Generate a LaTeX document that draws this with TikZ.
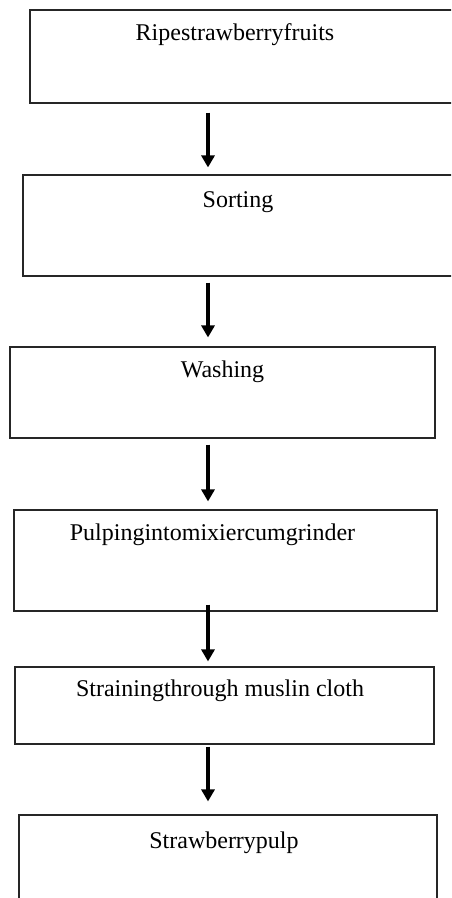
\documentclass[tikz,border=0pt]{standalone}
\usepackage{fontspec}
\setmainfont{Liberation Serif}
\usetikzlibrary{arrows.meta,calc}

\tikzset{
  stepbox/.style={draw=black!85,line width=.55pt,rectangle,inner sep=0pt},
  steptext/.style={anchor=base,inner sep=0pt,font=\fontsize{12}{14}\selectfont},
  flowarrow/.style={line width=1.8pt,-{Triangle[width=6.5pt,length=6pt]}}
}

\begin{document}
\begin{tikzpicture}[x=.5pt,y=-.5pt]
      \clip (0,0) rectangle (451,898);
      \fill[white] (0,0) rectangle (451,898);
      \coordinate (arrowx) at (208,0);
      %% boxes
      \node[stepbox,minimum width=215pt,minimum height=46.5pt] (box1) at (245,56.5) {};
      \node[stepbox,minimum width=218.5pt,minimum height=50.5pt] (box2) at (241.5,225.5) {};
      \node[stepbox,minimum width=212.5pt,minimum height=45.5pt] (box3) at (222.5,392.5) {};
      \node[stepbox,minimum width=211.5pt,minimum height=50.5pt] (box4) at (225.5,560.5) {};
      \node[stepbox,minimum width=209.5pt,minimum height=38.5pt] (box5) at (224.5,705.5) {};
      \node[stepbox,minimum width=209pt,minimum height=47.5pt] (box6) at (228,862.5) {};
      %% labels
      \node[steptext] (t1) at (235,40.5) {Ripestrawberryfruits};
      \node[steptext] (t2) at (238,207.5) {Sorting};
      \node[steptext] (t3) at (222.5,377) {Washing};
      \node[steptext] (t4) at (212.5,540.5) {Pulpingintomixiercumgrinder};
      \node[steptext] (t5) at (220,696.5) {Strainingthrough muslin cloth};
      \node[steptext] (t6) at (224,848) {Strawberrypulp};
      %% arrows
      \draw[flowarrow] ($(box1.south -| arrowx)+(0,-4.5pt)$) -- ($(box2.north -| arrowx)+(0,3.5pt)$);
      \draw[flowarrow] ($(box2.south -| arrowx)+(0,-3pt)$) -- ($(box3.north -| arrowx)+(0,4.5pt)$);
      \draw[flowarrow] ($(box3.south -| arrowx)+(0,-3pt)$) -- ($(box4.north -| arrowx)+(0,4pt)$);
      \draw[flowarrow] ($(box4.south -| arrowx)+(0,3.5pt)$) -- ($(box5.north -| arrowx)+(0,2.5pt)$);
      \draw[flowarrow] ($(box5.south -| arrowx)+(0,-1pt)$) -- ($(box6.north -| arrowx)+(0,6.5pt)$);
    \end{tikzpicture}
\end{document}
